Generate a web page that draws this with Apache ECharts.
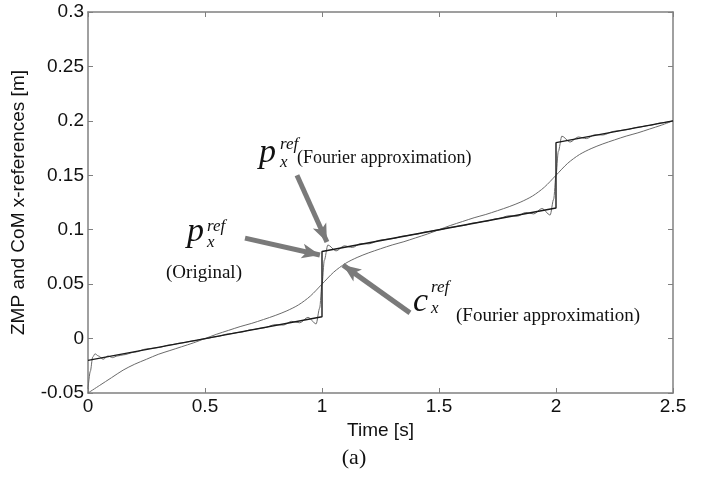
<!DOCTYPE html>
<html>
<head>
<meta charset="utf-8">
<script src="https://cdn.jsdelivr.net/npm/echarts@6/dist/echarts.min.js"></script>
<style>
  html, body { margin: 0; padding: 0; background: #fff; }
  #main { width: 708px; height: 482px; }
</style>
</head>
<body>
<div id="main"></div>
<script>
// original ZMP reference (steps at t = 1 and t = 2)
var origT = [0, 0.5, 1, 1, 1.5, 2, 2, 2.5]
var origP = [-0.02, 0, 0.02, 0.08, 0.1, 0.12, 0.18, 0.2]

// ZMP Fourier approximation (ripples near the steps)
var fourT = [0, 0.01, 0.02, 0.03, 0.045, 0.065, 0.085, 0.105, 0.125, 0.15, 0.2, 0.25, 0.3, 0.35, 0.4, 0.45,
  0.5, 0.55, 0.6, 0.65, 0.7, 0.75, 0.8, 0.835, 0.87, 0.905, 0.94, 0.975, 0.99, 1, 1.01, 1.025,
  1.06, 1.095, 1.13, 1.165, 1.2, 1.25, 1.3, 1.35, 1.4, 1.45, 1.5, 1.55, 1.6, 1.65, 1.7, 1.75,
  1.8, 1.835, 1.87, 1.905, 1.94, 1.975, 1.99, 2, 2.01, 2.025, 2.06, 2.095, 2.13, 2.165, 2.2,
  2.25, 2.3, 2.35, 2.4, 2.45, 2.5]
var fourP = [-0.046, -0.030, -0.017, -0.014, -0.016, -0.019, -0.016, -0.0175, -0.016, -0.015, -0.0125, -0.0095, -0.0083, -0.0058, -0.004, -0.0022,
  -0.0002, 0.0018, 0.0043, 0.0058, 0.0082, 0.0098, 0.0128, 0.0124, 0.0158, 0.0145, 0.0195, 0.0135, 0.028, 0.05, 0.072, 0.086,
  0.0805, 0.0852, 0.0837, 0.0872, 0.087, 0.0905, 0.0918, 0.0942, 0.0958, 0.0982, 0.0998, 0.1022, 0.1037, 0.1062, 0.1078, 0.1102,
  0.1128, 0.1124, 0.1158, 0.1145, 0.1195, 0.1135, 0.128, 0.15, 0.172, 0.186, 0.1805, 0.1852, 0.1837, 0.1872, 0.187,
  0.1905, 0.1918, 0.1942, 0.1958, 0.1982, 0.2]

// CoM reference (Fourier approximation)
var comT = [0, 0.05, 0.1, 0.15, 0.2, 0.25, 0.3, 0.35, 0.4, 0.45, 0.5, 0.55, 0.6, 0.65, 0.7, 0.75, 0.8,
  0.85, 0.9, 0.95, 1, 1.05, 1.1, 1.15, 1.2, 1.25, 1.3, 1.35, 1.4, 1.45, 1.5, 1.55, 1.6, 1.65, 1.7,
  1.75, 1.8, 1.85, 1.9, 1.95, 2, 2.05, 2.1, 2.15, 2.2, 2.25, 2.3, 2.35, 2.4, 2.45, 2.5]
var comX = [-0.05, -0.043, -0.036, -0.029, -0.0235, -0.019, -0.0145, -0.011, -0.0075, -0.004, 0, 0.004, 0.0075, 0.011, 0.014, 0.0175, 0.0212,
  0.0255, 0.031, 0.039, 0.05, 0.061, 0.069, 0.0745, 0.0788, 0.0825, 0.086, 0.089, 0.0925, 0.096, 0.1, 0.104, 0.1075, 0.111, 0.114,
  0.1175, 0.1212, 0.1255, 0.131, 0.139, 0.15, 0.161, 0.169, 0.1745, 0.1788, 0.1825, 0.186, 0.189, 0.1925, 0.196, 0.2]

function pairs(xs, ys) {
  return xs.map(function (x, i) { return [x, ys[i]] })
}

var axisGray = '#808080'
var sans = 'Liberation Sans'
var serif = 'Liberation Serif'

var chart = echarts.init(document.getElementById('main'), null, { renderer: 'canvas' })

var boxAxis = {
  axisLine: { show: true, onZero: false, lineStyle: { color: axisGray, width: 1.5 } },
  axisTick: { show: true, inside: true, length: 5, lineStyle: { color: axisGray, width: 1 } },
  splitLine: { show: false }
}

chart.setOption({
  animation: false,
  backgroundColor: '#fff',
  grid: { left: 88, right: 35, top: 12, bottom: 89 },
  xAxis: [
    Object.assign({}, boxAxis, {
      type: 'value', min: 0, max: 2.5, interval: 0.5,
      name: 'Time [s]', nameLocation: 'middle', nameGap: 28,
      nameTextStyle: { fontFamily: sans, fontSize: 19, color: '#111' },
      axisLabel: { fontFamily: sans, fontSize: 19, color: '#111', margin: 4 }
    }),
    Object.assign({}, boxAxis, {
      type: 'value', min: 0, max: 2.5, interval: 0.5, position: 'top',
      axisLabel: { show: false }
    })
  ],
  yAxis: [
    Object.assign({}, boxAxis, {
      type: 'value', min: -0.05, max: 0.3, interval: 0.05,
      name: 'ZMP and CoM x-references [m]', nameLocation: 'middle', nameGap: 60,
      nameTextStyle: { fontFamily: sans, fontSize: 19, color: '#111' },
      axisLabel: { fontFamily: sans, fontSize: 19, color: '#111', margin: 4 }
    }),
    Object.assign({}, boxAxis, {
      type: 'value', min: -0.05, max: 0.3, interval: 0.05, position: 'right',
      axisLabel: { show: false }
    })
  ],
  series: [
    {
      name: 'CoM', type: 'line', data: pairs(comT, comX), smooth: 0.3,
      showSymbol: false, lineStyle: { color: '#6a6a6a', width: 1 }
    },
    {
      name: 'ZMP Fourier', type: 'line', data: pairs(fourT, fourP), smooth: 0.3, smoothMonotone: 'x',
      showSymbol: false, lineStyle: { color: '#6a6a6a', width: 1 }
    },
    {
      name: 'ZMP original', type: 'line', data: pairs(origT, origP),
      showSymbol: false, lineStyle: { color: '#1a1a1a', width: 1.4 },
      markLine: {
        silent: true,
        symbol: ['none', 'arrow'],
        symbolSize: [11, 18],
        label: { show: false },
        lineStyle: { color: '#7a7a7a', width: 5, type: 'solid' },
        data: [
          [{ coord: [0.893, 0.150] }, { coord: [1.021, 0.0888] }],
          [{ coord: [0.671, 0.0923] }, { coord: [0.991, 0.0768] }],
          [{ coord: [1.376, 0.0236] }, { coord: [1.09, 0.0675] }]
        ]
      }
    }
  ],
  graphic: [
    // p_x^ref (Fourier approximation)
    { type: 'text', left: 259, top: 136, style: { text: 'p', font: 'italic 34px ' + serif, fill: '#111' } },
    { type: 'text', left: 280, top: 136, style: { text: 'ref', font: 'italic 17px ' + serif, fill: '#111' } },
    { type: 'text', left: 280, top: 154, style: { text: 'x', font: 'italic 17px ' + serif, fill: '#111' } },
    { type: 'text', left: 297, top: 149, style: { text: '(Fourier approximation)', font: '18px ' + serif, fill: '#111' } },
    // p_x^ref (Original)
    { type: 'text', left: 187, top: 215, style: { text: 'p', font: 'italic 34px ' + serif, fill: '#111' } },
    { type: 'text', left: 207, top: 218, style: { text: 'ref', font: 'italic 17px ' + serif, fill: '#111' } },
    { type: 'text', left: 207, top: 234, style: { text: 'x', font: 'italic 17px ' + serif, fill: '#111' } },
    { type: 'text', left: 166, top: 264, style: { text: '(Original)', font: '19px ' + serif, fill: '#111' } },
    // c_x^ref (Fourier approximation)
    { type: 'text', left: 413, top: 285, style: { text: 'c', font: 'italic 34px ' + serif, fill: '#111' } },
    { type: 'text', left: 431, top: 279, style: { text: 'ref', font: 'italic 17px ' + serif, fill: '#111' } },
    { type: 'text', left: 431, top: 300, style: { text: 'x', font: 'italic 17px ' + serif, fill: '#111' } },
    { type: 'text', left: 456, top: 307, style: { text: '(Fourier approximation)', font: '19px ' + serif, fill: '#111' } },
    // panel caption
    { type: 'text', left: 'center', top: 447, style: { text: '(a)', font: '22px ' + serif, fill: '#111' } }
  ]
})
</script>
</body>
</html>
